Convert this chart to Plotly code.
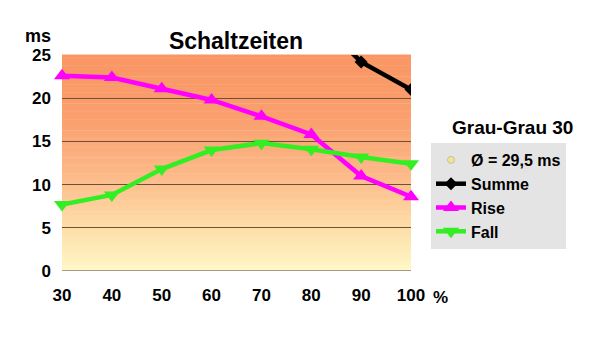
import plotly.graph_objects as go

categories = [30, 40, 50, 60, 70, 80, 90, 100]
rise = [22.6, 22.4, 21.1, 19.8, 17.9, 15.8, 11.0, 8.6]
fall = [7.7, 8.8, 11.8, 14.0, 14.8, 14.1, 13.2, 12.4]
summe = [30.3, 31.2, 32.9, 33.8, 32.7, 29.9, 24.2, 21.0]
y_ticks = [0, 5, 10, 15, 20, 25]
avg_label = "Ø = 29,5 ms"

FONT = "Liberation Sans, Arial, sans-serif"

fig = go.Figure()

fig.add_trace(go.Scatter(
    x=[None], y=[None], mode="markers", name=avg_label,
    marker=dict(symbol="circle", size=7, color="#F2E49A",
                line=dict(color="#C8C090", width=1)),
))
fig.add_trace(go.Scatter(
    x=categories, y=summe, mode="lines+markers", name="Summe",
    line=dict(color="#000000", width=4.5),
    marker=dict(symbol="diamond", size=10, color="#000000"),
))
fig.add_trace(go.Scatter(
    x=categories, y=rise, mode="lines+markers", name="Rise",
    line=dict(color="#FF00FF", width=4.5), cliponaxis=False,
    marker=dict(symbol="triangle-up", size=14, color="#FF00FF"),
))
fig.add_trace(go.Scatter(
    x=categories, y=fall, mode="lines+markers", name="Fall",
    line=dict(color="#33EE22", width=4.5), cliponaxis=False,
    marker=dict(symbol="triangle-down", size=14, color="#33EE22"),
))

# vertical gradient background (decoration)
def lerp(c1, c2, t):
    return tuple(round(a + (b - a) * t) for a, b in zip(c1, c2))

stops = [(0.0, (255, 248, 198)), (0.2, (253, 222, 168)), (0.45, (252, 185, 136)),
         (0.7, (250, 160, 110)), (1.0, (249, 150, 100))]
n = 80
shapes = []
for i in range(n):
    f0 = i / n
    f1 = (i + 1) / n
    fm = (f0 + f1) / 2
    for j in range(len(stops) - 1):
        if stops[j][0] <= fm <= stops[j + 1][0]:
            t = (fm - stops[j][0]) / (stops[j + 1][0] - stops[j][0])
            c = lerp(stops[j][1], stops[j + 1][1], t)
            break
    shapes.append(dict(type="rect", xref="x domain", yref="y domain",
                       x0=0, x1=1, y0=f0, y1=f1 + 0.002, layer="below",
                       line=dict(width=0), fillcolor="rgb(%d,%d,%d)" % c))

fig.update_layout(
    width=600, height=352,
    margin=dict(l=62, r=189, t=55, b=81),
    paper_bgcolor="white",
    plot_bgcolor="rgba(0,0,0,0)",
    shapes=shapes,
    showlegend=True,
    font=dict(family=FONT, color="#000000", weight="bold"),
    title=dict(text="Schaltzeiten", x=236 / 600, xanchor="center",
               y=1 - 41 / 352, yanchor="middle",
               font=dict(size=23, family=FONT, weight="bold")),
    xaxis=dict(range=[30, 100], tickmode="array", tickvals=categories,
               ticktext=[str(c) for c in categories], showgrid=False,
               zeroline=False, showline=False, ticks="",
               tickfont=dict(size=17, family=FONT, weight="bold"), ticklabelstandoff=12),
    yaxis=dict(range=[0, 25], tickmode="array", tickvals=y_ticks,
               showgrid=True, gridcolor="#6E5038", gridwidth=1,
               zeroline=False, showline=False, ticks="",
               tickfont=dict(size=17, family=FONT, weight="bold"), ticklabelstandoff=10),
    legend=dict(x=(431 - 62) / 349, y=(271 - 143) / 216, xanchor="left", yanchor="top",
                bgcolor="#E4E4E4", borderwidth=0,
                font=dict(size=16, family=FONT, weight="bold"),
                itemwidth=30, tracegroupgap=0),
    annotations=[
        dict(text="ms", xref="paper", yref="paper", x=(38 - 62) / 349, y=(271 - 36) / 216,
             showarrow=False, xanchor="center", yanchor="middle",
             font=dict(size=18, family=FONT, weight="bold")),
        dict(text="%", xref="paper", yref="paper", x=(440 - 62) / 349, y=(271 - 297) / 216,
             showarrow=False, xanchor="center", yanchor="middle",
             font=dict(size=17, family=FONT, weight="bold")),
        dict(text="Grau-Grau 30", xref="paper", yref="paper", x=(512 - 62) / 349,
             y=(271 - 127) / 216, showarrow=False, xanchor="center", yanchor="middle",
             font=dict(size=19, family=FONT, weight="bold")),
    ],
)

fig.add_hline(y=0, line=dict(color="#8A7A6A", width=1.5), layer="below")

fig.write_html("out.html")
